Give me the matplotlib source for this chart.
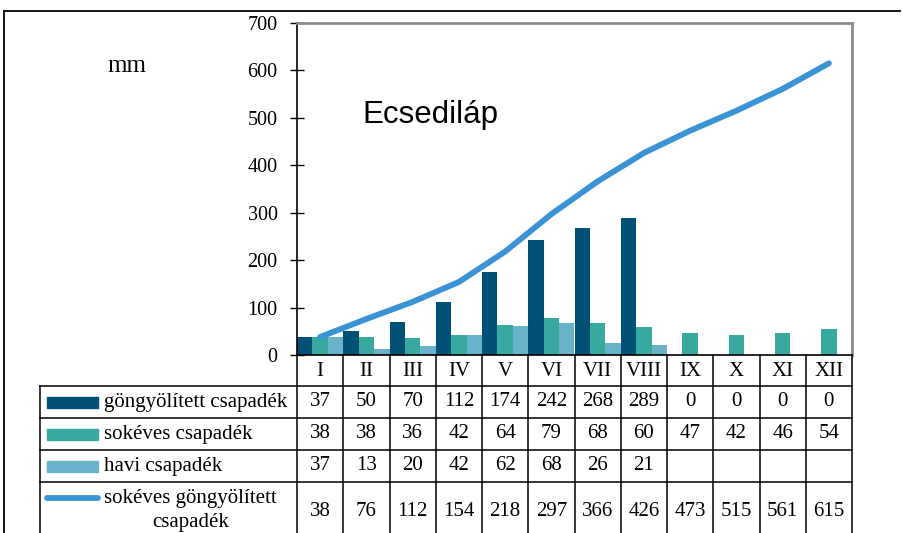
import numpy as np
import matplotlib
matplotlib.use("Agg")
import matplotlib.pyplot as plt
import matplotlib.transforms as mtransforms
from matplotlib.lines import Line2D
from matplotlib.patches import Rectangle

months = ["I", "II", "III", "IV", "V", "VI", "VII", "VIII", "IX", "X", "XI", "XII"]
gongyolitett = [37, 50, 70, 112, 174, 242, 268, 289, 0, 0, 0, 0]
sokeves = [38, 38, 36, 42, 64, 79, 68, 60, 47, 42, 46, 54]
havi = [37, 13, 20, 42, 62, 68, 26, 21, None, None, None, None]
sokeves_gongy = [38, 76, 112, 154, 218, 297, 366, 426, 473, 515, 561, 615]
yticks = [0, 100, 200, 300, 400, 500, 600, 700]

series_labels = ["göngyölített csapadék", "sokéves csapadék", "havi csapadék"]
line_label = ["sokéves göngyölített", "csapadék"]
title_text = "Ecsediláp"
unit_text = "mm"

c_dark = "#015075"
c_teal = "#37A99F"
c_light = "#69B3CA"
c_line = "#3A93D5"

W, H = 902, 533
serif = "Liberation Serif"

fig = plt.figure(figsize=(W / 100, H / 100), dpi=100)

def fx(x):
    return x / W

def fy(y):
    return 1 - y / H

ax_l, ax_r, ax_t, ax_b = 297, 852, 23, 355
ax = fig.add_axes([fx(ax_l), fy(ax_b), fx(ax_r - ax_l), (ax_b - ax_t) / H])

n = len(months)
x = np.arange(n)
bw = 1 / 3
havi_vals = np.array([np.nan if v is None else v for v in havi], dtype=float)
ax.bar(x - bw, gongyolitett, width=bw, color=c_dark, zorder=2)
ax.bar(x, sokeves, width=bw, color=c_teal, zorder=2)
ax.bar(x + bw, havi_vals, width=bw, color=c_light, zorder=2)
ax.plot(x, sokeves_gongy, color=c_line, lw=4.2, solid_capstyle="round", zorder=3)

ax.set_xlim(-0.5, n - 0.5)
ax.set_ylim(0, 700)
ax.set_yticks(yticks)
ax.set_yticklabels([str(v) for v in yticks], fontfamily=serif, fontsize=14.5)
ax.set_xticks([])
ax.tick_params(axis="y", direction="inout", length=10, width=1, color="black", pad=9)
for s in ["top", "right"]:
    ax.spines[s].set_color("#8c8c8c")
    ax.spines[s].set_linewidth(2)
ax.spines["left"].set_color("black")
ax.spines["left"].set_linewidth(1.2)
ax.spines["bottom"].set_color("black")
ax.spines["bottom"].set_linewidth(1.2)

# title and unit
fig.text(fx(362), fy(115), title_text, fontfamily="Liberation Sans", fontsize=22.5,
         ha="left", va="center")
fig.text(fx(127), fy(66), unit_text, fontfamily=serif, fontsize=18, ha="center", va="center")

# outer frame
fig.add_artist(Line2D([fx(4), fx(900)], [fy(11), fy(11)], color="black", lw=1.3))
fig.add_artist(Line2D([fx(4), fx(4)], [fy(11), fy(H + 5)], color="black", lw=1.3))

# data table
bt = mtransforms.blended_transform_factory(ax.transData, fig.transFigure)
row_lines = [386, 418, 450, 482]
bottom = H + 5
left_col = 40
tfs = 15

# vertical lines at category boundaries
for i in range(n + 1):
    fig.add_artist(Line2D([i - 0.5, i - 0.5], [fy(ax_b), fy(bottom)], transform=bt,
                          color="black", lw=1.1))
fig.add_artist(Line2D([fx(left_col), fx(left_col)], [fy(row_lines[0]), fy(bottom)],
                      color="black", lw=1.1))
for yl in row_lines:
    fig.add_artist(Line2D([fx(left_col), fx(ax_r)], [fy(yl), fy(yl)], color="black", lw=1.1))

# header labels
for i, m in enumerate(months):
    fig.text(i, fy(371), m, transform=bt, fontfamily=serif, fontsize=tfs,
             ha="center", va="center")

rows = [gongyolitett, sokeves, havi]
row_centers = [402, 434, 466]
colors = [c_dark, c_teal, c_light]
for vals, yc, col, lab in zip(rows, row_centers, colors, series_labels):
    fig.add_artist(Rectangle((fx(47), fy(yc + 5.5)), fx(51), 11 / H, color=col,
                             transform=fig.transFigure))
    fig.text(fx(104), fy(yc), lab, fontfamily=serif, fontsize=tfs, ha="left", va="center")
    for i, v in enumerate(vals):
        if v is not None:
            fig.text(i, fy(yc), str(v), transform=bt, fontfamily=serif, fontsize=tfs,
                     ha="center", va="center")

# line row
fig.add_artist(Line2D([fx(47), fx(98)], [fy(498), fy(498)], color=c_line, lw=4.2,
                      solid_capstyle="round"))
fig.text(fx(104), fy(498), line_label[0], fontfamily=serif, fontsize=tfs, ha="left", va="center")
fig.text(fx(191), fy(522), line_label[1], fontfamily=serif, fontsize=tfs, ha="center", va="center")
for i, v in enumerate(sokeves_gongy):
    fig.text(i, fy(511), str(v), transform=bt, fontfamily=serif, fontsize=tfs,
             ha="center", va="center")

fig.savefig("out.png", dpi=100)
